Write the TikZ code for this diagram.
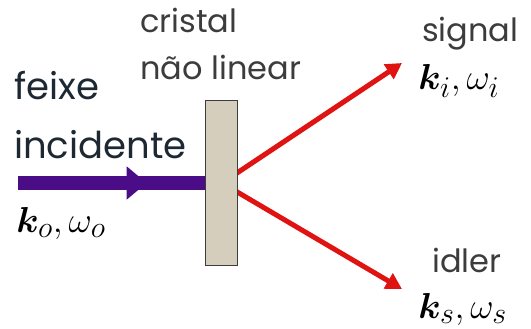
\documentclass[tikz,border=0pt]{standalone}
\usepackage{bm}
\usepackage{fontspec}
\setmainfont{Poppins}
\usetikzlibrary{arrows.meta, positioning, decorations.markings}
\definecolor{cpurple}{HTML}{4B0C87}
\definecolor{cred}{HTML}{E01313}
\definecolor{cxtal}{HTML}{D5CEBD}
\definecolor{cgrey}{HTML}{3C3C3C}
\definecolor{cnavy}{HTML}{1E2833}
\tikzset{
  xtalbox/.style={draw=cgrey, fill=cxtal, line width=1pt, minimum width=32pt, minimum height=165pt, inner sep=0pt},
  beam/.style={draw=cpurple, line width=14pt},
  beamtip/.style={postaction={decorate, decoration={markings,
      mark=at position 0.69 with {\arrow{Triangle[length=20pt, width=32pt]}}}}},
  ray/.style={draw=cred, line width=5pt, -{Triangle[length=16pt, width=17pt]}},
  lbl/.style={text=cgrey, font=\fontsize{32}{34}\selectfont, inner sep=0pt},
  biglbl/.style={text=cnavy, font=\fontsize{37}{39}\selectfont, inner sep=0pt},
  wave/.style={font=\fontsize{24.88}{26}\selectfont, scale=1.45, inner sep=0pt},
}
\begin{document}
\begin{tikzpicture}[x=1pt, y=-1pt]
  \useasboundingbox (0,0) rectangle (531,329);
  % signal and idler (apex hidden behind the crystal)
  \coordinate (apex) at (222,183);
  \coordinate (sigend) at (402,63);
  \coordinate (idlend) at (402,289);
  \draw[ray] (apex) -- (sigend);
  \draw[ray] (apex) -- (idlend);
  % crystal
  \node[xtalbox] (xtal) at (221,183) {};
  \node[lbl, anchor=base west] (cristal) at (140,33) {cristal};
  \node[lbl, anchor=base west] (naolinear) at (140,80) {não linear};
  % incident beam
  \coordinate (src) at (18,183);
  \draw[beam, beamtip] (src) -- (xtal.west);
  \node[biglbl, anchor=base west] (feixe) at (14,100) {feixe};
  \node[biglbl, anchor=base west] (incidente) at (14,158) {incidente};
  \node[wave, anchor=base west] (kzero) at (16,232) {$\bm{k}_o,\omega_o$};
  % labels of the outgoing beams
  \node[lbl, anchor=base west] (signal) at (422,42) {signal};
  \node[wave, anchor=base west] (ksig) at (418,90) {$\bm{k}_i,\omega_i$};
  \node[lbl, anchor=base west] (idler) at (432,272) {idler};
  \node[wave, anchor=base west] (kidl) at (418,318) {$\bm{k}_s,\omega_s$};
\end{tikzpicture}
\end{document}
